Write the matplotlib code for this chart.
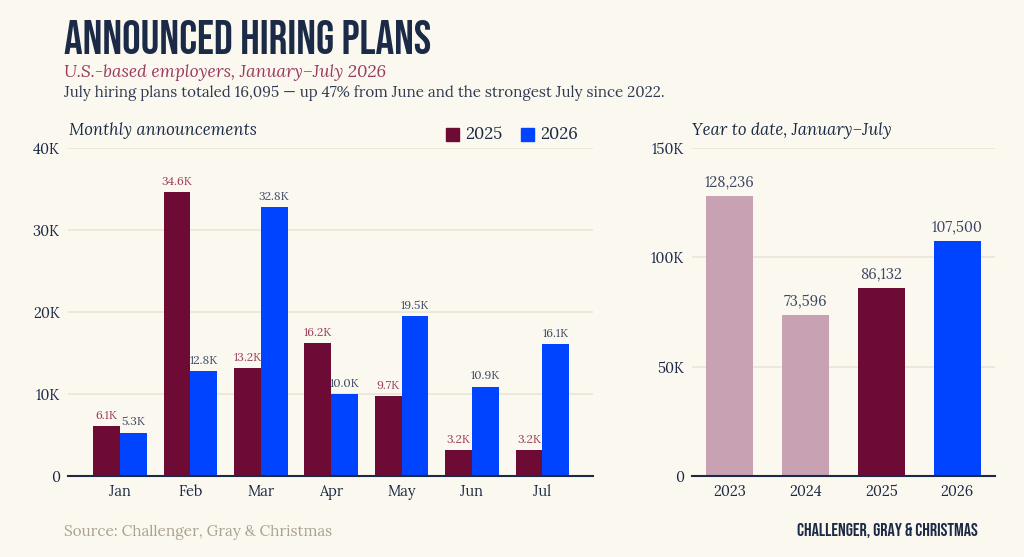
import matplotlib
matplotlib.use("Agg")
import matplotlib.pyplot as plt
import numpy as np
from matplotlib import font_manager
from matplotlib.patches import Rectangle

months = ["Jan", "Feb", "Mar", "Apr", "May", "Jun", "Jul"]
plans_2025 = [6100, 34600, 13200, 16200, 9700, 3200, 3200]
plans_2026 = [5300, 12800, 32800, 10000, 19500, 10900, 16100]

ytd_years = ["2023", "2024", "2025", "2026"]
ytd_totals = [128236, 73596, 86132, 107500]

BG = "#fbf8ef"
NAVY = "#1b2a47"
MAROON = "#6e0b35"
BLUE = "#0044ff"
PINK = "#c8a1b2"
GRID = "#e9e5d6"
LBL25 = "#9a3a5c"
LBL26 = "#3b4763"

# pick the closest installed fonts
installed = {f.name for f in font_manager.fontManager.ttflist}
serif = next(f for f in ["Lora", "Noto Serif", "Liberation Serif", "DejaVu Serif"] if f in installed)
display = next(f for f in ["Bebas Neue", "Oswald", "Noto Sans ExtraCondensed", "Roboto Condensed",
                           "Noto Sans Condensed", "DejaVu Sans"] if f in installed)

plt.rcParams.update({"font.family": [serif, "DejaVu Serif"], "text.color": NAVY})

fig = plt.figure(figsize=(10.24, 5.57), dpi=100, facecolor=BG)


def style(ax, ymax, step):
    ax.set_facecolor(BG)
    for s in ["top", "right", "left"]:
        ax.spines[s].set_visible(False)
    ax.spines["bottom"].set_color(NAVY)
    ax.spines["bottom"].set_linewidth(1.5)
    ax.set_ylim(0, ymax)
    ticks = np.arange(0, ymax + 1, step)
    ax.set_yticks(ticks, ["0" if t == 0 else f"{int(t / 1000)}K" for t in ticks])
    ax.yaxis.grid(True, color=GRID, lw=1.2)
    ax.set_axisbelow(True)
    ax.tick_params(axis="both", length=0, labelsize=10.5, colors=NAVY, pad=6)


# left: monthly bars
ax1 = fig.add_axes([0.0664, 0.1454, 0.5127, 0.5889])
style(ax1, 40000, 10000)
x = np.arange(len(months))
w = 0.38
b25 = ax1.bar(x - w / 2, plans_2025, w, color=MAROON)
b26 = ax1.bar(x + w / 2, plans_2026, w, color=BLUE)
for rect, v in zip(b25, plans_2025):
    ax1.annotate(f"{v / 1000:.1f}K", (rect.get_x() + rect.get_width() / 2, v), xytext=(0, 3),
                 textcoords="offset points", ha="center", va="bottom", fontsize=8.5, color=LBL25)
for rect, v in zip(b26, plans_2026):
    ax1.annotate(f"{v / 1000:.1f}K", (rect.get_x() + rect.get_width() / 2, v), xytext=(0, 3),
                 textcoords="offset points", ha="center", va="bottom", fontsize=8.5, color=LBL26)
ax1.set_xticks(x, months)
ax1.set_xlim(-0.74, 6.72)

# right: year to date
ax2 = fig.add_axes([0.6758, 0.1454, 0.2959, 0.5889])
style(ax2, 150000, 50000)
xr = np.arange(len(ytd_years))
bars = ax2.bar(xr, ytd_totals, 0.62, color=[PINK, PINK, MAROON, BLUE])
for rect, v in zip(bars, ytd_totals):
    ax2.annotate(f"{v:,}", (rect.get_x() + rect.get_width() / 2, v), xytext=(0, 4),
                 textcoords="offset points", ha="center", va="bottom", fontsize=10.5, color=LBL26)
ax2.set_xticks(xr, ytd_years)
ax2.set_xlim(-0.5, 3.5)

# header text
title_size = 33.5 if display in ("Bebas Neue", "Oswald", "Noto Sans ExtraCondensed") else 24
fig.text(0.0625, 0.903, "ANNOUNCED HIRING PLANS", fontsize=title_size, fontweight="bold",
         family=[display, "DejaVu Sans"], fontstretch="condensed", color=NAVY, va="baseline")
fig.text(0.0625, 0.862, "U.S.-based employers, January\u2013July 2026", fontsize=12.5,
         style="italic", color=LBL25, va="baseline")
fig.text(0.0625, 0.826, "July hiring plans totaled 16,095 \u2014 up 47% from June and the strongest July since 2022.",
         fontsize=10.9, color="#2e3a52", va="baseline")
fig.text(0.0674, 0.757, "Monthly announcements", fontsize=12, style="italic", color=NAVY, va="baseline")
fig.text(0.6758, 0.757, "Year to date, January\u2013July", fontsize=12, style="italic", color=NAVY, va="baseline")

# legend
for xs, col, lab in [(0.4355, MAROON, "2025"), (0.5088, BLUE, "2026")]:
    fig.patches.append(Rectangle((xs, 0.747), 0.0127, 0.0235, transform=fig.transFigure,
                                 color=col, zorder=3))
    fig.text(xs + 0.0185, 0.759, lab, fontsize=12, color=NAVY, va="center")

# footer
fig.text(0.0625, 0.038, "Source: Challenger, Gray & Christmas", fontsize=11, color="#aaa290", va="baseline")
fig.text(0.955, 0.038, "CHALLENGER, GRAY & CHRISTMAS", fontsize=title_size * 0.39, fontweight="bold",
         family=[display, "DejaVu Sans"], fontstretch="condensed", color=NAVY, ha="right", va="baseline")

fig.savefig("out.png", dpi=100, facecolor=BG)
